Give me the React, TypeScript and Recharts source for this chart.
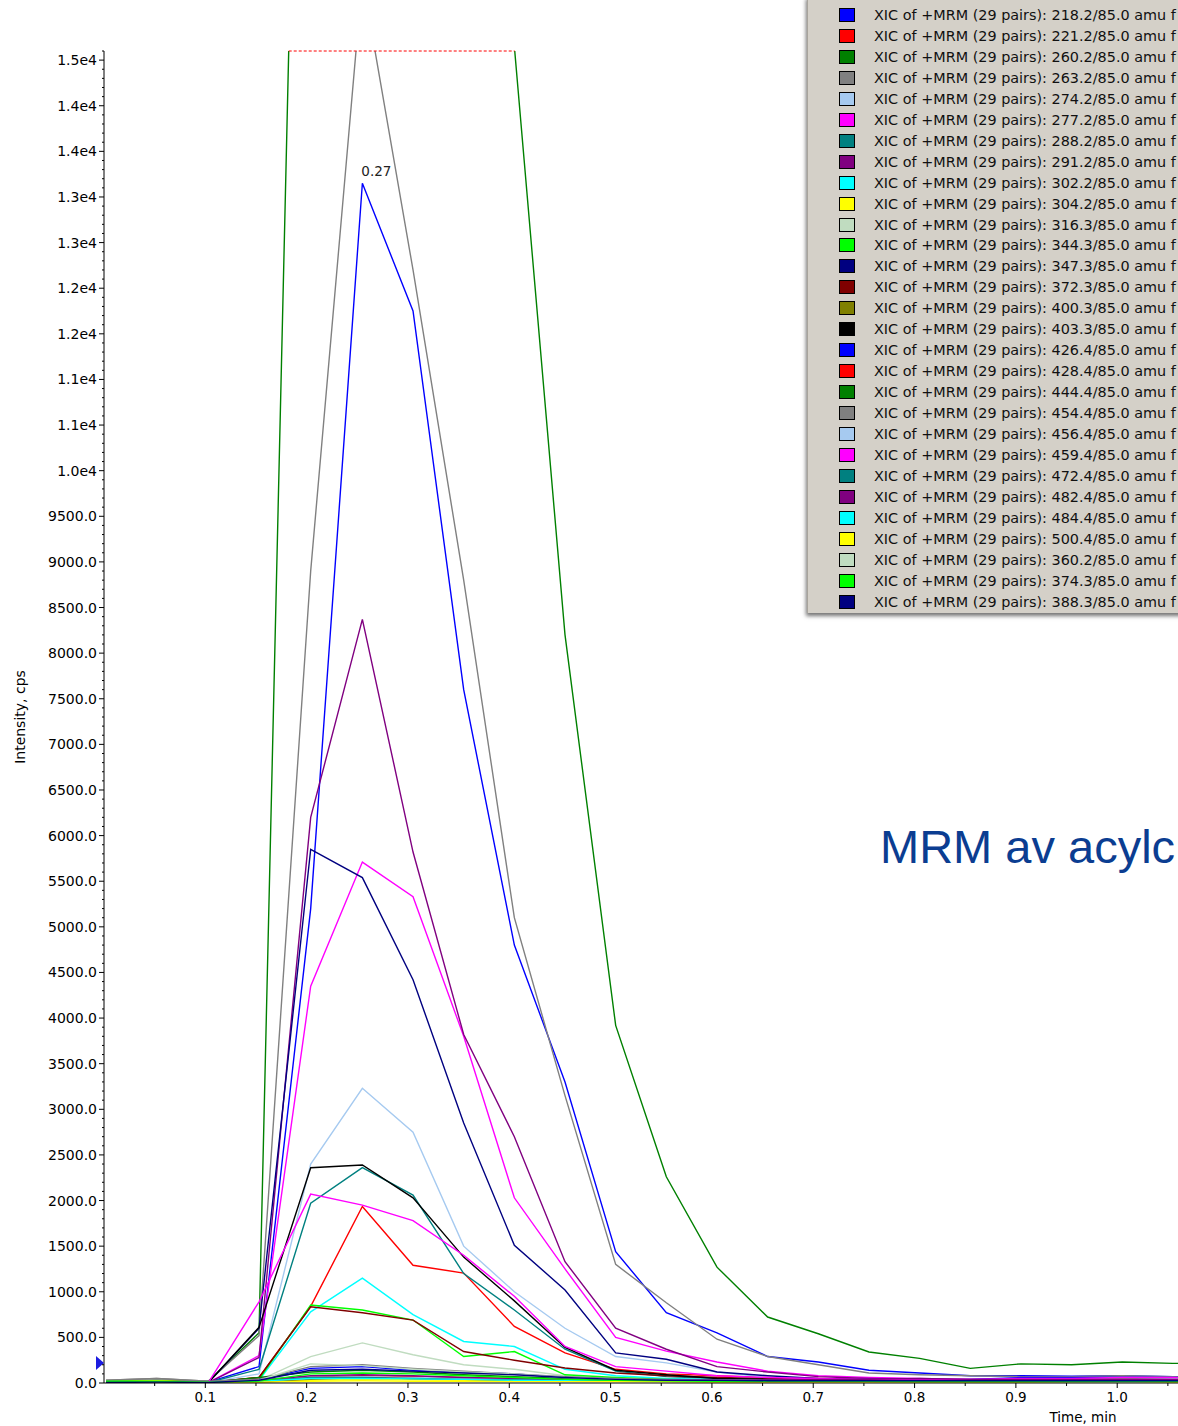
import { LineChart, Line, XAxis, YAxis, ReferenceLine, ReferenceDot } from 'recharts';

// retention times (min), one sample every ~0.05 min
const times = [0.002, 0.052, 0.103, 0.153, 0.204, 0.255, 0.305, 0.355, 0.405, 0.455, 0.505, 0.555, 0.605, 0.655, 0.705, 0.755, 0.805, 0.855, 0.905, 0.955, 1.005, 1.055, 1.105];

// legend order: precursor / product
const masses = ['218.2', '221.2', '260.2', '263.2', '274.2', '277.2', '288.2', '291.2', '302.2', '304.2', '316.3', '344.3', '347.3', '372.3', '400.3', '403.3', '426.4', '428.4', '444.4', '454.4', '456.4', '459.4', '472.4', '482.4', '484.4', '500.4', '360.2', '374.3', '388.3'];
const colors = ['#0000ff', '#ff0000', '#008000', '#808080', '#a6caf0', '#ff00ff', '#008080', '#800080', '#00ffff', '#ffff00', '#c0dcc0', '#00ff00', '#000080', '#800000', '#808000', '#000000', '#0000ff', '#ff0000', '#008000', '#808080', '#a6caf0', '#ff00ff', '#008080', '#800080', '#00ffff', '#ffff00', '#c0dcc0', '#00ff00', '#000080'];

// intensities (cps)
const s218 = [10, 20, 10, 180, 5200, 13150, 11750, 7600, 4800, 3300, 1440, 770, 550, 290, 230, 140, 110, 80, 80, 75, 80, 70, 70];
const s221 = [5, 10, 5, 60, 840, 1935, 1290, 1205, 620, 330, 150, 100, 80, 60, 50, 40, 40, 30, 30, 30, 25, 25, 25];
const s260 = [20, 30, 20, 550, 25000, 29000, 28000, 22000, 14650, 8200, 3920, 2260, 1270, 723, 540, 340, 270, 160, 210, 200, 230, 215, 220];
const s263 = [30, 50, 20, 520, 8900, 15400, 12200, 8800, 5100, 3150, 1300, 880, 480, 290, 200, 110, 90, 80, 70, 70, 80, 70, 70];
const s274 = [5, 10, 5, 100, 2400, 3230, 2750, 1500, 1000, 600, 290, 220, 120, 60, 40, 30, 25, 20, 20, 20, 20, 20, 20];
const s277 = [5, 10, 5, 300, 4350, 5710, 5330, 3800, 2030, 1250, 500, 350, 230, 130, 80, 60, 50, 40, 40, 40, 35, 35, 35];
const s288 = [5, 10, 5, 150, 1970, 2360, 2060, 1200, 800, 370, 130, 70, 50, 40, 30, 30, 25, 20, 20, 20, 20, 20, 20];
const s291 = [5, 10, 5, 280, 6200, 8370, 5820, 3820, 2700, 1330, 600, 370, 180, 120, 70, 50, 40, 40, 35, 35, 30, 30, 30];
const s302 = [5, 5, 5, 30, 780, 1150, 750, 455, 400, 150, 80, 50, 40, 30, 30, 25, 20, 20, 20, 20, 20, 20, 20];
const s304 = [20, 25, 10, 10, 30, 40, 35, 30, 25, 20, 20, 15, 15, 15, 15, 15, 30, 15, 15, 25, 30, 15, 15];
const s316 = [5, 10, 5, 30, 290, 440, 310, 200, 150, 80, 40, 30, 25, 20, 20, 20, 20, 20, 20, 20, 20, 20, 20];
const s344 = [20, 15, 10, 40, 855, 800, 690, 290, 345, 90, 60, 40, 30, 25, 20, 20, 20, 20, 20, 20, 20, 20, 20];
const s347 = [5, 10, 5, 600, 5850, 5540, 4420, 2850, 1510, 1020, 330, 260, 120, 80, 50, 40, 40, 35, 30, 30, 30, 30, 30];
const s372 = [5, 10, 5, 60, 835, 770, 690, 345, 250, 165, 110, 80, 60, 50, 40, 35, 30, 30, 30, 30, 30, 30, 30];
const s400 = [10, 15, 5, 10, 40, 60, 50, 40, 30, 25, 20, 20, 15, 15, 15, 15, 15, 15, 15, 15, 15, 15, 15];
const s403 = [5, 10, 5, 610, 2360, 2390, 2030, 1380, 900, 390, 140, 90, 50, 40, 30, 30, 25, 25, 30, 30, 25, 25, 25];
const s426 = [5, 10, 5, 40, 160, 180, 140, 120, 100, 60, 40, 30, 30, 30, 30, 30, 30, 40, 60, 60, 60, 60, 60];
const s428 = [5, 10, 5, 20, 60, 80, 70, 60, 50, 40, 35, 30, 25, 20, 20, 20, 20, 20, 20, 20, 20, 20, 20];
const s444 = [10, 10, 5, 60, 120, 140, 120, 90, 70, 50, 40, 30, 30, 25, 25, 20, 20, 20, 20, 20, 20, 20, 20];
const s454 = [30, 50, 20, 40, 180, 200, 160, 130, 100, 70, 50, 40, 35, 30, 30, 30, 30, 30, 30, 40, 50, 60, 50];
const s456 = [5, 5, 5, 20, 60, 70, 60, 50, 40, 30, 25, 20, 20, 20, 20, 20, 20, 20, 20, 20, 20, 20, 20];
const s459 = [5, 10, 5, 890, 2070, 1950, 1780, 1400, 950, 400, 180, 130, 80, 60, 50, 40, 40, 40, 50, 50, 60, 60, 50];
const s472 = [5, 5, 5, 20, 60, 60, 50, 40, 35, 30, 25, 20, 20, 20, 20, 20, 20, 20, 20, 20, 20, 20, 20];
const s482 = [5, 5, 5, 30, 80, 90, 80, 60, 50, 40, 35, 30, 30, 30, 40, 40, 50, 40, 40, 40, 40, 40, 40];
const s484 = [5, 5, 5, 20, 50, 50, 45, 40, 30, 25, 20, 20, 20, 20, 20, 20, 20, 20, 20, 20, 20, 20, 20];
const s500 = [10, 20, 5, 10, 20, 25, 20, 20, 15, 15, 15, 15, 10, 10, 10, 10, 10, 10, 10, 15, 20, 10, 10];
const s360 = [5, 5, 5, 30, 210, 190, 150, 120, 100, 60, 40, 30, 30, 25, 25, 20, 20, 20, 20, 20, 20, 20, 20];
const s374 = [20, 20, 10, 20, 100, 110, 100, 80, 60, 40, 30, 25, 20, 20, 20, 20, 15, 15, 15, 15, 15, 15, 15];
const s388 = [5, 10, 5, 30, 140, 150, 130, 110, 90, 60, 40, 30, 30, 25, 25, 25, 25, 25, 25, 25, 25, 25, 25];

const values = [s218, s221, s260, s263, s274, s277, s288, s291, s302, s304, s316, s344, s347, s372, s400, s403, s426, s428, s444, s454, s456, s459, s472, s482, s484, s500, s360, s374, s388];

const yMax = 14600;
const xMax = 1.06;
const apexText = '0.27';
const thresholdLevel = 220;

const yTicks: number[] = [];
for (let v = 0; v <= yMax; v += 100) yTicks.push(v);
const xTicks: number[] = [];
for (let i = 1; i <= 21; i++) xTicks.push(Math.round(i * 5) / 100);

const rows = times.map((t, i) => {
  const r: Record<string, number> = { t };
  values.forEach((s, k) => {
    r['m' + k] = s[i];
  });
  return r;
});

// where the saturated trace leaves the top of the plot
const clip = (() => {
  let start = 0;
  let end = 0;
  for (let i = 1; i < times.length; i++) {
    const a = s260[i - 1];
    const b = s260[i];
    const dt = times[i] - times[i - 1];
    if (a < yMax && b >= yMax) start = times[i - 1] + ((yMax - a) / (b - a)) * dt;
    if (a >= yMax && b < yMax) end = times[i - 1] + ((a - yMax) / (a - b)) * dt;
  }
  return { start, end };
})();

const apexIndex = s218.indexOf(Math.max(...s218));

const font = '"DejaVu Sans", sans-serif';

const fmtY = (v: number) => (v >= 10000 ? (Math.round(v / 1000) / 10).toFixed(1) + 'e4' : v.toFixed(1));

const YTick = ({ x, y, payload }: any) => {
  const v = payload.value;
  const major = v % 500 === 0;
  return (
    <g>
      <line x1={x - (major ? 5 : 2)} x2={x} y1={y} y2={y} stroke="#000" />
      {major && (
        <text x={x - 7} y={y + 5} textAnchor="end" fontSize={14} fontFamily={font} fill="#000">
          {fmtY(v)}
        </text>
      )}
    </g>
  );
};

const XTick = ({ x, y, payload }: any) => {
  const v = payload.value;
  const major = Math.round(v * 100) % 10 === 0;
  return (
    <g>
      <line x1={x} x2={x} y1={y} y2={y + (major ? 5 : 3)} stroke="#000" />
      {major && (
        <text x={x} y={y + 19} textAnchor="middle" fontSize={13.5} fontFamily={font} fill="#000">
          {v.toFixed(1)}
        </text>
      )}
    </g>
  );
};

const ApexLabel = (props: any) => {
  if (props.index !== apexIndex) return <g />;
  return (
    <text x={props.x - 1} y={props.y - 7} fontSize={13.5} fontFamily={font} fill="#222">
      {apexText}
    </text>
  );
};

const Marker = (props: any) => {
  const { cx, cy } = props;
  return <polygon points={`${cx - 8},${cy - 7} ${cx},${cy} ${cx - 8},${cy + 7}`} fill="#1c1ce0" />;
};

const App = () => {
  return (
    <div style={{ position: 'absolute', left: 0, top: 0, width: 1178, height: 1426, overflow: 'hidden', background: '#fff' }}>
      <LineChart width={1178} height={1426} data={rows} margin={{ top: 51, right: 0, bottom: 0, left: 0 }}>
        <XAxis
          dataKey="t"
          type="number"
          domain={[0, xMax]}
          allowDataOverflow
          ticks={xTicks}
          interval={0}
          tick={<XTick />}
          tickLine={false}
          tickSize={0}
          tickMargin={0}
          height={43}
          axisLine={{ stroke: '#000' }}
        />
        <YAxis
          type="number"
          domain={[0, yMax]}
          allowDataOverflow
          ticks={yTicks}
          interval={0}
          tick={<YTick />}
          tickLine={false}
          tickSize={0}
          tickMargin={0}
          width={104}
          axisLine={{ stroke: '#000' }}
        />
        {values.map((_, k) => (
          <Line
            key={k}
            type="linear"
            dataKey={'m' + k}
            name={masses[k]}
            stroke={colors[k]}
            strokeWidth={1.4}
            dot={false}
            activeDot={false}
            isAnimationActive={false}
            label={k === 0 ? <ApexLabel /> : undefined}
          />
        ))}
        <ReferenceLine
          segment={[
            { x: clip.start, y: yMax },
            { x: clip.end, y: yMax },
          ]}
          stroke="#ff0000"
          strokeDasharray="3 2"
        />
        <ReferenceDot x={0} y={thresholdLevel} ifOverflow="visible" shape={<Marker />} />
      </LineChart>

      <div
        style={{
          position: 'absolute',
          left: 20,
          top: 717,
          transform: 'translate(-50%, -50%) rotate(-90deg)',
          fontFamily: font,
          fontSize: 14,
          whiteSpace: 'nowrap',
          color: '#000',
        }}
      >
        Intensity, cps
      </div>
      <div
        style={{
          position: 'absolute',
          left: 1083,
          top: 1417,
          transform: 'translate(-50%, -50%)',
          fontFamily: font,
          fontSize: 13.5,
          whiteSpace: 'nowrap',
          color: '#000',
        }}
      >
        Time, min
      </div>

      <div
        style={{
          position: 'absolute',
          left: 807,
          top: -4,
          width: 420,
          height: 617,
          background: '#d4d0c8',
          borderLeft: '1px solid #a8a49c',
          boxShadow: '-1px 3px 4px rgba(0,0,0,0.55)',
        }}
      >
        {masses.map((m, i) => (
          <div
            key={m + i}
            style={{ position: 'absolute', left: 31, top: 4 + 15 + 20.95 * i - 10, height: 20, display: 'flex', alignItems: 'center' }}
          >
            <span
              style={{ display: 'inline-block', width: 16, height: 14, boxSizing: 'border-box', border: '1px solid #000', background: colors[i] }}
            />
            <span style={{ marginLeft: 19, fontFamily: font, fontSize: 14.4, whiteSpace: 'nowrap', color: '#111' }}>
              XIC of +MRM (29 pairs): {m}/85.0 amu f
            </span>
          </div>
        ))}
      </div>

      <div
        style={{
          position: 'absolute',
          left: 880,
          top: 822,
          fontFamily: '"Liberation Sans", Arial, sans-serif',
          fontSize: 47,
          lineHeight: '49px',
          whiteSpace: 'nowrap',
          color: '#0b3d91',
        }}
      >
        MRM av acylc
      </div>
    </div>
  );
};

export default App;
